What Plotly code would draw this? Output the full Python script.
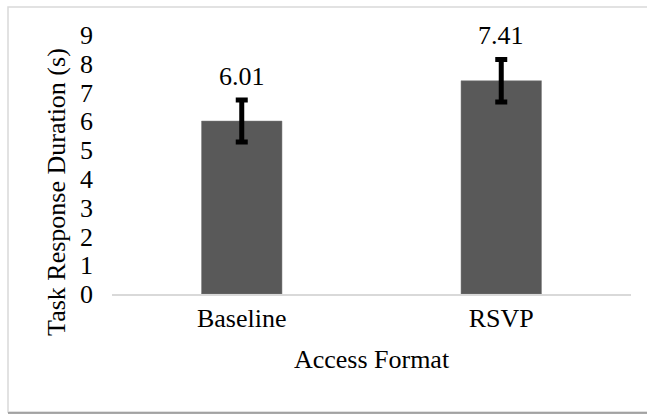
import plotly.graph_objects as go

# Mean task response duration per access format, with error margins
categories = ["Baseline", "RSVP"]
durations = [6.01, 7.41]
errors = [0.73, 0.74]
y_ticks = [0, 1, 2, 3, 4, 5, 6, 7, 8, 9]

FONT = "Liberation Serif"
SIZE = 26
BAR_COLOR = "#595959"

fig = go.Figure()
fig.add_trace(go.Bar(
    x=categories,
    y=durations,
    marker=dict(color=BAR_COLOR, line=dict(color="#7a7a7a", width=0.5)),
    error_y=dict(type="data", array=errors, visible=True,
                 color="black", thickness=5, width=6),
    width=0.31,
    hoverinfo="skip",
))

# value labels sitting above each error bar
for cat, val, err in zip(categories, durations, errors):
    fig.add_annotation(
        x=cat, y=val + err, text=f"{val:.2f}",
        showarrow=False, yanchor="bottom", yshift=7,
        font=dict(family=FONT, size=SIZE, color="black"),
    )

# vertical axis title, centred on the whole chart frame
fig.add_annotation(
    xref="paper", yref="paper", x=-0.106, y=0.394,
    text="Task Response Duration (s)", textangle=-90,
    showarrow=False, xanchor="center", yanchor="middle",
    font=dict(family=FONT, size=SIZE, color="black"),
)

# light frame around the chart area
fig.add_shape(type="rect", xref="paper", yref="paper",
              x0=-0.2004, x1=1.04, y0=-0.4556, y1=1.108,
              line=dict(color="#d9d9d9", width=1.5), layer="below")
fig.add_shape(type="line", xref="paper", yref="paper",
              x0=-0.2004, x1=1.04, y0=-0.4595, y1=-0.4595,
              line=dict(color="#8c8c8c", width=1.5))

fig.update_layout(
    width=647, height=414,
    margin=dict(l=112, r=16, t=35, b=120),
    paper_bgcolor="white", plot_bgcolor="white",
    showlegend=False,
    font=dict(family=FONT, size=SIZE, color="black"),
    xaxis=dict(
        showgrid=False, zeroline=False, showline=True,
        linecolor="#d9d9d9", linewidth=1.5, ticks="",
        tickfont=dict(family=FONT, size=SIZE),
        title=dict(text="Access Format", standoff=18,
                   font=dict(family=FONT, size=SIZE)),
    ),
    yaxis=dict(
        range=[0, 9], tickvals=y_ticks, showgrid=False, zeroline=False,
        showline=False, ticks="", ticklabelstandoff=18,
        tickfont=dict(family=FONT, size=SIZE),
    ),
)

fig.write_html("out.html")
